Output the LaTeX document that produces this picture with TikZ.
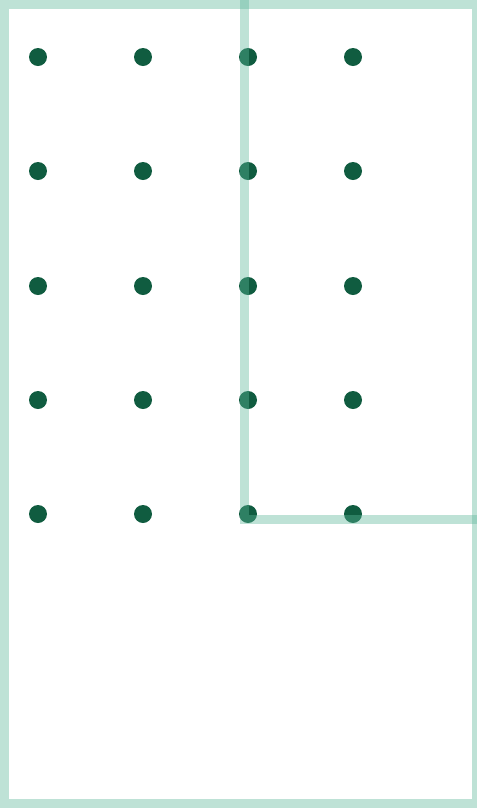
\documentclass[tikz,border=0pt]{standalone}
\begin{document}
\begin{tikzpicture}[x=0.75pt,y=-0.75pt,
  dotstyle/.style={circle,fill=dotgreen,inner sep=0pt,minimum size=13.5pt,draw=none},
  band/.style={draw=bandgreen,line width=6.75pt,draw opacity=0.4,line join=miter}]
\definecolor{dotgreen}{RGB}{16,92,64}
\definecolor{bandgreen}{RGB}{92,182,153}
\useasboundingbox (0,0) rectangle (477,808);
\foreach \i/\x in {1/38,2/143,3/248,4/353}{
  \foreach \j/\y in {1/57,2/171,3/286,4/400,5/514}{
    \node[dotstyle] (d\i\j) at (\x,\y) {};
  }
}
\draw[band] (4.25,4.5) rectangle (476,803.5);
\draw[band] (244.5,-6) -- (244.5,519) -- (484,519);
\end{tikzpicture}
\end{document}
